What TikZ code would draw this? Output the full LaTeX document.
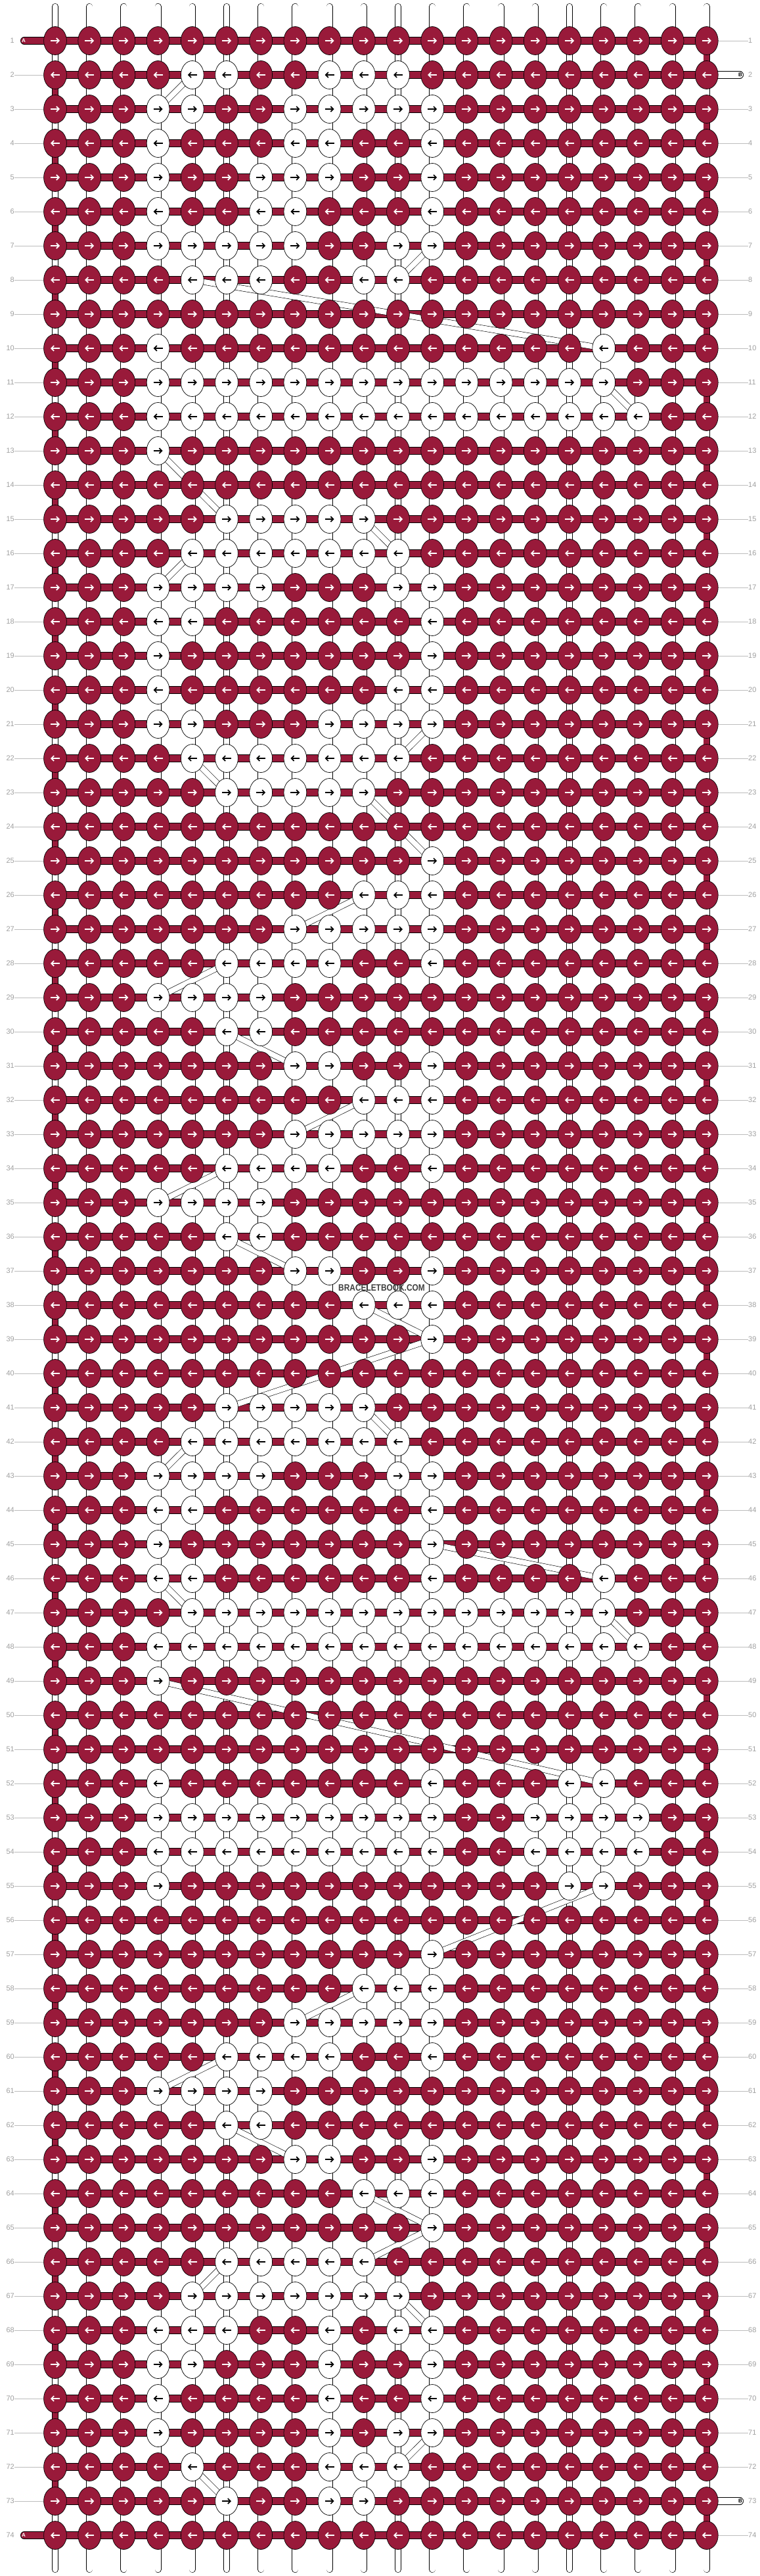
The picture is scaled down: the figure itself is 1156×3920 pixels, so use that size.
\documentclass[tikz,border=0pt]{standalone}
\usepackage{fontspec}
\setmainfont{Liberation Sans}
\usetikzlibrary{shapes.geometric,arrows.meta}

\definecolor{knotred}{RGB}{153,26,58}
\definecolor{labelgray}{RGB}{160,160,160}

\pgfdeclarelayer{strings}
\pgfdeclarelayer{bars}
\pgfsetlayers{strings,bars,main}

% white knots, row/{columns}
\newcommand{\whiterows}{2/{5,6,9,10,11}, 3/{4,5,8,9,10,11,12}, 4/{4,8,9,12}, 5/{4,7,8,9,12},
  6/{4,7,8,12}, 7/{4,5,6,7,8,11,12}, 8/{5,6,7,10,11}, 10/{4,17}, 11/{4,...,17}, 12/{4,...,18},
  13/{4}, 15/{6,...,10}, 16/{5,...,11}, 17/{4,5,6,7,11,12}, 18/{4,5,12}, 19/{4,12}, 20/{4,11,12},
  21/{4,5,9,10,11,12}, 22/{5,...,11}, 23/{6,...,10}, 25/{12}, 26/{10,11,12}, 27/{8,...,12},
  28/{6,7,8,9,12}, 29/{4,5,6,7}, 30/{6,7}, 31/{8,9,12}, 32/{10,11,12}, 33/{8,...,12},
  34/{6,7,8,9,12}, 35/{4,5,6,7}, 36/{6,7}, 37/{8,9,12}, 38/{10,11,12}, 39/{12}, 41/{6,...,10},
  42/{5,...,11}, 43/{4,5,6,7,11,12}, 44/{4,5,12}, 45/{4,12}, 46/{4,5,12,17}, 47/{5,...,17},
  48/{4,...,18}, 49/{4}, 52/{4,12,16,17}, 53/{4,5,6,7,8,9,10,11,12,15,16,17,18},
  54/{4,5,6,7,8,9,10,11,12,15,16,17,18}, 55/{4,16,17}, 57/{12}, 58/{10,11,12}, 59/{8,...,12},
  60/{6,7,8,9,12}, 61/{4,5,6,7}, 62/{6,7}, 63/{8,9,12}, 64/{10,11,12}, 65/{12}, 66/{6,...,10},
  67/{5,...,11}, 68/{4,5,6,9,11,12}, 69/{4,5,9,12}, 70/{4,9,12}, 71/{4,9,11,12}, 72/{5,9,10,11},
  73/{6,9,10}}

\begin{document}
\begin{tikzpicture}[x=1pt, y=-1pt,
    knot/.style={draw, ellipse, line width=0.7pt, minimum width=34.8pt, minimum height=43pt, inner sep=0pt},
    knotarrow/.style={line width=1.7pt, -{Straight Barb[length=4pt,width=8pt]}},
    vstring/.style={draw=black, line width=0.6pt, double=white, double distance=8.8pt, line cap=round},
    turn/.style={draw=black, line width=0.6pt, double=knotred, double distance=8.8pt},
    bar/.style={draw=black, line width=0.7pt, double=knotred, double distance=10.6pt},
    tailB/.style={draw=black, line width=0.7pt, double=white, double distance=10.6pt, line cap=round},
    strand/.style={draw=black, line width=0.6pt, double=white, double distance=8pt},
    rowlabel/.style={text=labelgray, font=\fontsize{11}{11}\selectfont, inner sep=0pt},
    labelline/.style={draw=labelgray!70, line width=0.8pt},
    endlabel/.style={font=\bfseries\fontsize{8}{8}\selectfont, inner sep=0pt}]
    \useasboundingbox (0,0) rectangle (1156,3920);

    % mark the white knots
    \foreach \r/\w in \whiterows {
        \foreach \c in \w {\expandafter\gdef\csname wk-\r-\c\endcsname{}}
    }

    % knots, rows 1 to 74
    \foreach \r in {1,...,74} {
        \foreach \c in {1,...,20} {
            \pgfmathsetmacro{\kx}{84+52.2*(\c-1)}
            \pgfmathsetmacro{\ky}{62+52*(\r-1)}
            \ifcsname wk-\r-\c\endcsname
                \node[knot, fill=white] (k-\r-\c) at (\kx,\ky) {};
                \def\arrowcol{black}
            \else
                \node[knot, fill=knotred] (k-\r-\c) at (\kx,\ky) {};
                \def\arrowcol{white}
            \fi
            \ifodd\r\relax
                \draw[knotarrow, color=\arrowcol] (\kx-7,\ky) -- (\kx+7,\ky);
            \else
                \draw[knotarrow, color=\arrowcol] (\kx+7,\ky) -- (\kx-7,\ky);
            \fi
        }
    }

    % row numbers
    \foreach \r in {1,...,74} {
        \pgfmathsetmacro{\ky}{62+52*(\r-1)}
        \node[rowlabel, anchor=east] (ll-\r) at (22,\ky) {\r};
        \node[rowlabel, anchor=west] (rl-\r) at (1139,\ky) {\r};
    }

    \node[font=\bfseries\fontsize{14}{14}\selectfont, text=black!75, inner sep=1pt] (brand) at (581,1960) {\scalebox{0.85}[1]{BRACELETBOOK.COM}};

    \begin{pgfonlayer}{strings}
        \fill[white] (0,0) rectangle (1156,3920);
        % vertical strings
        \foreach \c in {1,...,20} {
            \pgfmathsetmacro{\kx}{84+52.2*(\c-1)}
            \coordinate (top-\c) at (\kx,10);
            \coordinate (bot-\c) at (\kx,3910);
            \draw[vstring] (top-\c) -- (bot-\c);
        }
        % working string going down at the edges
        \foreach \r in {1,...,73} {
            \pgfmathtruncatemacro{\rn}{\r+1}
            \ifodd\r\relax \def\ec{20}\else \def\ec{1}\fi
            \draw[turn] (k-\r-\ec.center) -- (k-\rn-\ec.center);
        }
    \end{pgfonlayer}

    \begin{pgfonlayer}{bars}
        \foreach \r in {1,...,74} \draw[bar] (k-\r-1.center) -- (k-\r-20.center);

        % string A and string B ends
        \coordinate (endA-1) at (37,62);
        \coordinate (endA-74) at (37,3858);
        \coordinate (endB-2) at (1126,114);
        \coordinate (endB-73) at (1126,3806);
        \draw[bar, line cap=round] (endA-1) -- (k-1-1.center);
        \draw[bar, line cap=round] (endA-74) -- (k-74-1.center);
        \draw[tailB] (k-2-20.center) -- (endB-2);
        \draw[tailB] (k-73-20.center) -- (endB-73);
        \node[endlabel, text=white] (A-1) at (36,62) {A};
        \node[endlabel, text=white] (A-74) at (36,3858) {A};
        \node[endlabel] (B-2) at (1127,114) {B};
        \node[endlabel] (B-73) at (1127,3806) {B};

        % string B carried behind
        \foreach \ra/\ca/\rb/\cb in {2/5/3/4, 7/12/8/11, 8/5/10/17, 11/17/12/18, 13/4/15/6,
            15/10/16/11, 16/5/17/4, 21/12/22/11, 22/5/23/6, 23/10/25/12, 26/10/27/8, 28/6/29/4,
            30/6/31/8, 32/10/33/8, 34/6/35/4, 36/6/37/8, 38/10/39/12, 39/12/41/6, 41/10/42/11,
            42/5/43/4, 45/12/46/17, 46/4/47/5, 47/17/48/18, 49/4/52/17, 55/17/57/12, 58/10/59/8,
            60/6/61/4, 62/6/63/8, 64/10/65/12, 65/12/66/10, 66/6/67/5, 67/11/68/12, 71/12/72/11,
            72/5/73/6}
            \draw[strand] (k-\ra-\ca.center) -- (k-\rb-\cb.center);

        % lines to the row numbers
        \foreach \r in {2,...,73} \draw[labelline] (ll-\r) -- (k-\r-1);
        \foreach \r in {1,3,4,...,72,74} \draw[labelline] (k-\r-20) -- (rl-\r);
    \end{pgfonlayer}
\end{tikzpicture}
\end{document}
